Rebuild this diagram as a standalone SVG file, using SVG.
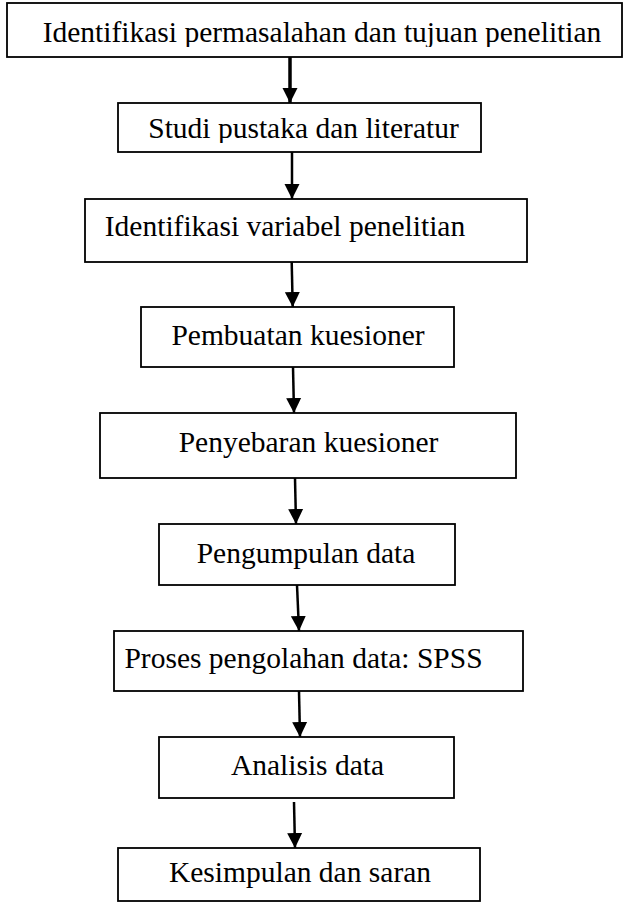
<svg xmlns="http://www.w3.org/2000/svg" width="624" height="904" viewBox="0 0 624 904">
<style>
.box{fill:#fff;stroke:#000;stroke-width:1.8}
.t{font-family:"Liberation Serif","Times New Roman",serif;font-size:29.5px;fill:#000;text-anchor:middle}
.c{stroke:#000;stroke-width:2.5;fill:none}
</style>
<defs>
<marker id="ah" viewBox="0 0 10 10" refX="10" refY="5" markerWidth="15" markerHeight="16" markerUnits="userSpaceOnUse" orient="auto">
<path d="M0,0 L10,5 L0,10 z" fill="#000"/>
</marker>
<clipPath id="cp1"><rect x="7" y="3" width="615" height="44"/></clipPath>
<clipPath id="cp2"><rect x="118" y="103" width="363" height="40"/></clipPath>
</defs>
<rect width="624" height="904" fill="#fff"/>
<g id="n1"><rect class="box" x="7" y="3" width="615" height="54"/><text class="t" x="322" y="42" clip-path="url(#cp1)">Identifikasi permasalahan dan tujuan penelitian</text></g>
<g id="n2"><rect class="box" x="118" y="103" width="363" height="49"/><text class="t" x="303.5" y="138" clip-path="url(#cp2)">Studi pustaka dan literatur</text></g>
<g id="n3"><rect class="box" x="85" y="199" width="442" height="63"/><text class="t" x="285" y="236">Identifikasi variabel penelitian</text></g>
<g id="n4"><rect class="box" x="141" y="307" width="313" height="60"/><text class="t" x="298" y="345">Pembuatan kuesioner</text></g>
<g id="n5"><rect class="box" x="100" y="413" width="416" height="65"/><text class="t" x="308.5" y="452">Penyebaran kuesioner</text></g>
<g id="n6"><rect class="box" x="159" y="524" width="296" height="61"/><text class="t" x="306" y="563">Pengumpulan data</text></g>
<g id="n7"><rect class="box" x="114" y="631" width="409" height="60"/><text class="t" x="303.5" y="668">Proses pengolahan data: SPSS</text></g>
<g id="n8"><rect class="box" x="159" y="737" width="295" height="61"/><text class="t" x="307.5" y="775">Analisis data</text></g>
<g id="n9"><rect class="box" x="118" y="848" width="362" height="53"/><text class="t" x="300" y="882">Kesimpulan dan saran</text></g>
<g id="connectors">
<line class="c" x1="290" y1="57" x2="290" y2="103" style="stroke-width:3.5" marker-end="url(#ah)"/>
<line class="c" x1="292" y1="152" x2="292" y2="199" marker-end="url(#ah)"/>
<line class="c" x1="291.7" y1="262" x2="292.7" y2="307" marker-end="url(#ah)"/>
<line class="c" x1="293" y1="367" x2="294" y2="413" marker-end="url(#ah)"/>
<line class="c" x1="295" y1="478" x2="296" y2="524" marker-end="url(#ah)"/>
<line class="c" x1="297" y1="585" x2="299" y2="631" marker-end="url(#ah)"/>
<line class="c" x1="299" y1="691" x2="300" y2="737" marker-end="url(#ah)"/>
<line class="c" x1="294" y1="802" x2="295" y2="848" marker-end="url(#ah)"/>
</g>
</svg>
